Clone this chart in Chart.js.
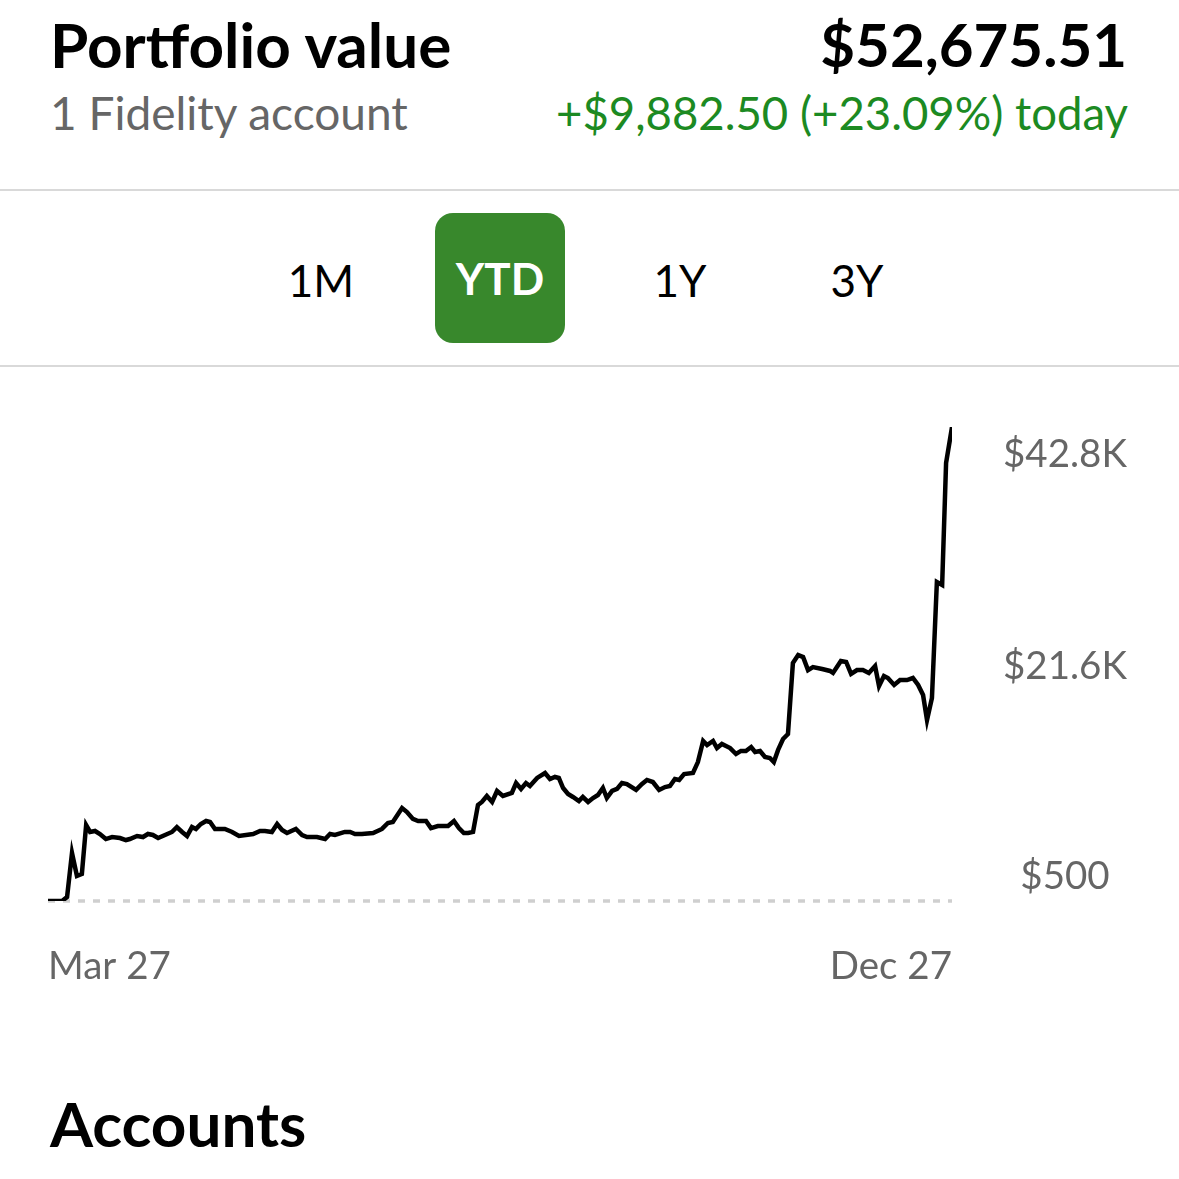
<!DOCTYPE html>
<html>
<head>
<meta charset="utf-8">
<script src="https://cdn.jsdelivr.net/npm/chart.js@4/dist/chart.umd.min.js"></script>
<style>
  html, body { margin: 0; padding: 0; background: #fff; }
  body { width: 1179px; height: 1179px; position: relative; overflow: hidden; font-family: Lato, "Noto Sans", sans-serif; }
  .abs { position: absolute; white-space: nowrap; }
  .title { left: 50px; top: 11px; font-size: 62px; font-weight: 700; color: #000; line-height: 66px; }
  .total { right: 52px; top: 11px; font-size: 60px; font-weight: 700; color: #000; line-height: 66px; }
  .sub { left: 50px; top: 87px; font-size: 46px; color: #666; line-height: 52px; }
  .change { right: 51px; top: 87px; font-size: 45.5px; color: #1c8a22; line-height: 52px; }
  .sep { left: 0; width: 1179px; height: 2px; background: #d9d9d9; }
  .btn { top: 248px; font-size: 44px; color: #000; line-height: 64px; text-align: center; width: 130px; }
  .btn.on { top: 213px; height: 130px; line-height: 130px; background: #38882c; color: #fff; font-weight: 700; border-radius: 18px; }
  .accounts { left: 50px; top: 1090px; font-size: 62px; font-weight: 700; color: #000; line-height: 66px; }
  #wrap { position: absolute; left: 0; top: 390px; width: 1179px; height: 620px; }
</style>
</head>
<body>
<div class="abs title">Portfolio value</div>
<div class="abs total">$52,675.51</div>
<div class="abs sub">1 Fidelity account</div>
<div class="abs change">+$9,882.50 (+23.09%) today</div>
<div class="abs sep" style="top:189px"></div>
<div class="abs btn" style="left:256px">1M</div>
<div class="abs btn on" style="left:435px">YTD</div>
<div class="abs btn" style="left:615px">1Y</div>
<div class="abs btn" style="left:792px">3Y</div>
<div class="abs sep" style="top:365px"></div>
<div id="wrap"><canvas id="chart"></canvas></div>
<div class="abs accounts">Accounts</div>

<script>
// days since Mar 27 (YTD range ends Dec 27 = day 275)
const days = [0, 4.3, 5.8, 7.3, 8.8, 10.3, 11.6, 12.8, 14.3, 15.8, 17.6, 19.5, 21.9, 23.7, 24.9, 27.1, 28.9, 30.4, 31.9, 33.5,
  35.6, 37.7, 39.2, 40.8, 42.3, 43.8, 45.0, 46.5, 48.1, 49.3, 50.8, 53.8, 56.0, 58.1, 62.4, 64.5, 66.0, 68.1, 69.7, 71.2,
  72.7, 75.4, 77.3, 78.8, 81.8, 84.3, 85.8, 87.3, 90.3, 91.9, 93.4, 95.5, 98.9, 101.6, 103.4, 104.9, 107.7, 109.2, 111.0, 112.6,
  115.0, 116.5, 118.6, 121.7, 123.5, 125.0, 126.5, 127.8, 129.3, 130.8, 132.0, 133.5, 135.1, 136.6, 138.4, 141.1, 142.4, 143.9, 145.4, 146.6,
  148.8, 151.2, 152.7, 154.2, 155.4, 156.7, 158.2, 159.7, 161.5, 162.7, 164.3, 165.8, 167.3, 168.8, 170.0, 171.6, 173.1, 174.6, 176.1, 178.9,
  180.7, 182.2, 184.0, 185.9, 187.7, 189.2, 190.7, 192.0, 193.5, 196.2, 197.7, 199.3, 200.5, 202.3, 203.5, 205.0, 207.5, 209.3, 210.8, 212.3,
  213.9, 215.1, 216.6, 218.1, 219.6, 220.8, 222.1, 223.6, 225.1, 226.6, 228.2, 229.7, 231.2, 232.7, 235.5, 237.9, 238.8, 241.2, 242.8, 244.3,
  246.1, 247.9, 249.7, 251.6, 252.8, 254.3, 255.5, 257.4, 259.2, 261.3, 263.1, 264.7, 266.2, 267.4, 268.9, 270.4, 272.0, 273.2, 275];

// portfolio value, dollars
const values = [500, 500, 860, 4780, 2730, 2910, 7280, 6660, 6750, 6480, 6030, 6210, 6120, 5940, 6030, 6300, 6210, 6480, 6390, 6120,
  6390, 6660, 7100, 6660, 6300, 7100, 6930, 7370, 7640, 7550, 6930, 6930, 6660, 6300, 6480, 6750, 6750, 6660, 7370, 6840,
  6570, 6930, 6390, 6210, 6210, 6030, 6480, 6390, 6660, 6660, 6480, 6480, 6570, 6930, 7460, 7550, 8800, 8440, 7820, 7640,
  7640, 7010, 7190, 7190, 7640, 7010, 6570, 6570, 6660, 9070, 9340, 9870, 9340, 10320, 9870, 10140, 11030, 10500, 11030, 10760,
  11480, 11920, 11390, 11570, 11480, 10580, 10050, 9780, 9420, 9780, 9340, 9690, 9960, 10580, 9690, 10320, 10500, 11030, 10940, 10410,
  10940, 11300, 11120, 10410, 10670, 10760, 11390, 11300, 11830, 11920, 12900, 14780, 14420, 14780, 14150, 14510, 14150, 13620, 13890, 13890,
  14240, 13800, 13890, 13350, 13260, 12900, 13980, 14960, 15400, 21740, 22450, 22270, 21110, 21380, 21200, 21030, 20850, 21920, 21830, 20760,
  21110, 21110, 20850, 21470, 19690, 20580, 20400, 19780, 20220, 20220, 20400, 19780, 18880, 16650, 18620, 28970, 28700, 39590, 42790];

const xTickValues = [0, 275];
const xTickLabels = ['Mar 27', 'Dec 27'];
const yTickValues = [500, 21600, 42800];
const yTickLabels = ['$500', '$21.6K', '$42.8K'];
const baseline = 500;

const points = days.map((d, i) => ({ x: d, y: values[i] }));
const baseLine = [{ x: xTickValues[0], y: baseline }, { x: xTickValues[1], y: baseline }];

new Chart(document.getElementById('chart'), {
  type: 'line',
  data: {
    datasets: [{
      data: points,
      borderColor: '#000',
      borderWidth: 4.5,
      pointRadius: 0,
      tension: 0,
      order: 1
    }, {
      data: baseLine,
      borderColor: '#cfcfcf',
      borderWidth: 3.5,
      borderDash: [7, 8],
      pointRadius: 0,
      clip: 4,
      order: 2
    }]
  },
  options: {
    responsive: true,
    maintainAspectRatio: false,
    animation: false,
    layout: { padding: { left: 48, top: 37, right: 0, bottom: 0 } },
    plugins: { legend: { display: false }, tooltip: { enabled: false } },
    scales: {
      x: {
        type: 'linear',
        min: 0,
        max: 275,
        afterBuildTicks: s => { s.ticks = xTickValues.map(v => ({ value: v })); },
        afterFit: s => { s.height = 109; s.paddingLeft = 0; s.paddingRight = 0; },
        grid: { display: false },
        border: { display: false },
        ticks: {
          align: 'inner',
          padding: 34,
          color: '#666',
          font: { family: 'Lato', size: 38.5 },
          callback: (v) => xTickLabels[xTickValues.indexOf(v)]
        }
      },
      y: {
        display: false,
        min: 500,
        max: 42800
      },
      yLabels: {
        type: 'linear',
        position: 'right',
        // label band is inset from the data range, as in the app
        min: -1906,
        max: 45607,
        afterBuildTicks: s => { s.ticks = yTickValues.map(v => ({ value: v })); },
        afterFit: s => { s.width = 227; s.paddingTop = 0; s.paddingBottom = 0; },
        grid: { display: false },
        border: { display: false },
        ticks: {
          crossAlign: 'center',
          padding: 43,
          color: '#666',
          font: { family: 'Lato', size: 38.5 },
          callback: (v) => yTickLabels[yTickValues.indexOf(v)]
        }
      }
    }
  }
});
</script>
</body>
</html>
